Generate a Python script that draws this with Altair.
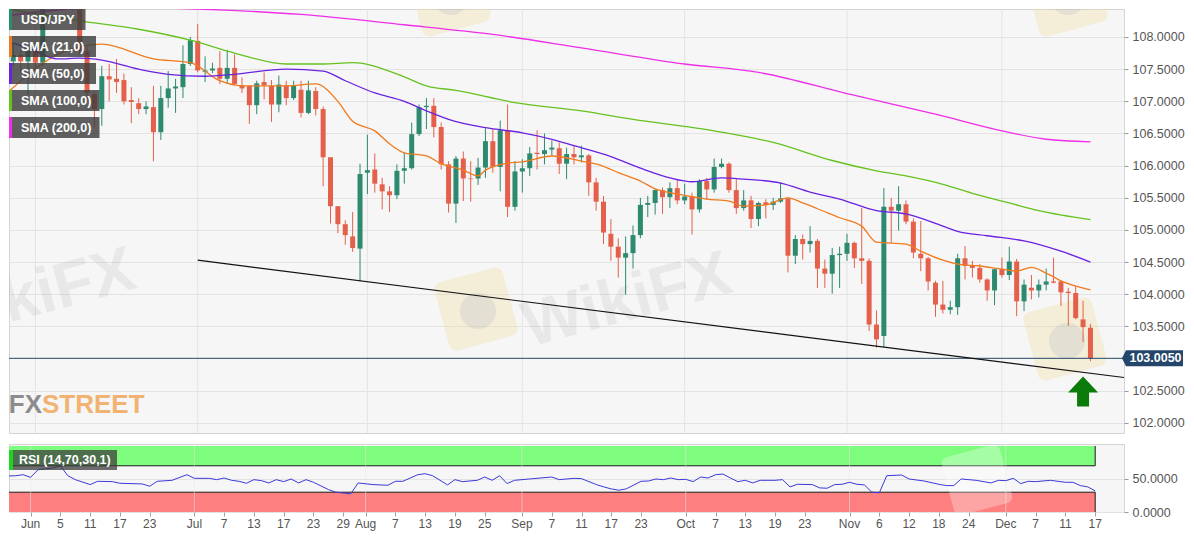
import pandas as pd
import altair as alt

# Daily bars, counted in trading days (bar 0 = 1 June 2020)
days = pd.bdate_range("2020-05-27", "2020-12-17")
bar_of = {d.strftime("%Y-%m-%d"): i - 3 for i, d in enumerate(days)}

opens = [
    107.62, 107.72, 107.62,
    107.81, 107.60, 108.70, 108.90, 109.20, 109.60, 108.45, 107.78, 107.11, 106.88,
    107.39, 107.35, 107.33, 107.02, 106.97, 106.88, 106.91, 106.52, 107.05, 107.20,
    107.22, 107.58,
    107.94, 107.46, 107.48, 107.52, 107.35, 107.52, 107.25, 107.24, 106.94, 107.30,
    107.24, 106.95, 107.25, 107.05, 107.18, 106.82, 107.16, 106.88, 106.13, 105.37,
    105.09, 104.90, 104.71,
    105.89, 105.94, 105.71, 105.60, 105.54, 105.92, 105.96, 106.49, 106.91, 106.93,
    106.60, 106.02, 105.41, 106.11, 105.80, 105.80, 105.97, 106.38, 105.98, 106.55, 105.36,
    105.91, 105.96, 106.20, 106.18, 106.25, 106.27, 106.03, 106.18, 106.13,
    106.16, 105.74, 105.44, 104.94, 104.74, 104.57, 104.64, 104.92, 105.39, 105.42,
    105.62, 105.51, 105.65,
    105.46, 105.52, 105.32, 105.76, 105.63, 105.98, 106.03, 105.62, 105.34, 105.46,
    105.17, 105.43, 105.39, 105.44, 105.49, 104.60, 104.86, 104.78, 104.83, 104.40,
    104.32, 104.61,
    104.63, 104.80, 104.56, 104.52, 103.53, 103.35, 105.36, 105.30, 105.40, 105.13,
    104.63, 104.56, 104.18, 103.84, 103.76, 103.80, 104.56, 104.44, 104.41, 104.23,
    104.06,
    104.39, 104.30, 104.51, 103.89, 104.10, 104.06, 104.15, 104.20, 104.20, 104.04,
    104.02, 103.61, 103.48,
]
highs = [
    107.90, 107.80, 107.90,
    107.92, 108.80, 109.10, 109.30, 109.85, 109.65, 108.55, 107.85, 107.15, 107.55,
    107.58, 107.66, 107.43, 107.22, 107.05, 107.00, 107.24, 107.24, 107.47, 107.35,
    107.87, 108.00,
    108.20, 107.70, 107.60, 107.78, 107.80, 107.73, 107.37, 107.25, 107.32, 107.45,
    107.33, 107.40, 107.32, 107.32, 107.32, 107.32, 107.22, 106.92, 106.13, 105.37,
    105.15, 105.28, 106.03,
    106.48, 106.19, 105.81, 105.68, 106.02, 106.20, 106.67, 106.95, 107.05, 107.05,
    106.67, 106.07, 106.15, 106.22, 106.07, 106.12, 106.58, 106.57, 106.70, 106.95, 106.07,
    106.10, 106.29, 106.55, 106.50, 106.39, 106.36, 106.28, 106.31, 106.31,
    106.18, 105.81, 105.53, 105.17, 104.87, 104.90, 105.07, 105.50, 105.53, 105.63,
    105.66, 105.74, 105.79,
    105.72, 105.58, 105.79, 105.81, 106.11, 106.11, 106.05, 105.79, 105.62, 105.53,
    105.44, 105.48, 105.50, 105.74, 105.51, 104.92, 104.93, 105.06, 104.86, 104.54,
    104.72, 104.74,
    104.94, 104.82, 105.34, 104.56, 103.75, 105.65, 105.50, 105.68, 105.46, 105.18,
    105.14, 104.58, 104.21, 104.21, 103.90, 104.63, 104.75, 104.52, 104.47, 104.25,
    104.39,
    104.57, 104.74, 104.55, 104.23, 104.30, 104.23, 104.40, 104.57, 104.22, 104.10,
    104.13, 103.90, 103.54,
]
lows = [
    107.55, 107.45, 107.10,
    107.50, 107.55, 108.45, 108.75, 109.10, 108.40, 107.72, 107.00, 106.59, 106.62,
    107.00, 107.13, 106.95, 106.66, 106.80, 106.80, 106.07, 106.40, 106.90, 106.82,
    107.05, 107.55,
    107.45, 107.30, 107.44, 107.27, 107.27, 107.25, 107.13, 106.65, 106.80, 107.03,
    106.68, 106.83, 106.94, 107.02, 106.75, 106.80, 106.78, 105.68, 105.10, 104.95,
    104.77, 104.66, 104.20,
    105.56, 105.58, 105.32, 105.28, 105.48, 105.72, 105.94, 106.46, 106.57, 106.44,
    105.94, 105.27, 105.11, 105.45, 105.44, 105.70, 105.81, 105.89, 105.60, 105.20, 105.30,
    105.58, 105.84, 105.94, 106.02, 106.15, 105.87, 105.79, 106.02, 106.05,
    105.53, 105.30, 104.78, 104.52, 104.26, 103.99, 104.40, 104.87, 105.20, 105.24,
    105.25, 105.34, 105.40,
    105.40, 104.93, 105.27, 105.48, 105.58, 105.96, 105.58, 105.25, 105.30, 105.03,
    105.06, 105.18, 105.31, 105.42, 104.34, 104.47, 104.54, 104.65, 104.10, 104.10,
    104.01, 104.10,
    104.52, 104.41, 104.16, 103.43, 103.17, 103.18, 104.80, 104.99, 105.09, 104.56,
    104.36, 104.06, 103.65, 103.70, 103.69, 103.68, 104.23, 104.26, 104.18, 103.90,
    103.83,
    104.26, 104.22, 103.66, 103.74, 103.92, 103.95, 104.06, 104.17, 103.82, 103.51,
    103.61, 103.26, 102.96,
]
closes = [
    107.72, 107.62, 107.83,
    107.60, 108.70, 108.90, 109.20, 109.60, 108.45, 107.78, 107.13, 106.88, 107.39,
    107.34, 107.30, 107.00, 106.99, 106.88, 106.92, 106.52, 107.05, 107.20, 107.23,
    107.58, 107.95,
    107.48, 107.48, 107.51, 107.35, 107.52, 107.27, 107.20, 106.94, 107.28, 107.25,
    106.95, 107.26, 107.05, 107.25, 106.82, 107.17, 106.88, 106.13, 105.37, 105.09,
    104.92, 104.72, 105.87,
    105.93, 105.72, 105.60, 105.54, 105.92, 105.96, 106.49, 106.91, 106.93, 106.60,
    106.02, 105.41, 106.11, 105.80, 105.79, 105.97, 106.38, 105.98, 106.55, 105.36, 105.91,
    105.96, 106.19, 106.18, 106.24, 106.28, 106.03, 106.18, 106.13, 106.16,
    105.74, 105.44, 104.96, 104.74, 104.57, 104.64, 104.92, 105.39, 105.42, 105.62,
    105.51, 105.65, 105.46,
    105.52, 105.32, 105.76, 105.63, 105.98, 106.03, 105.62, 105.34, 105.46, 105.17,
    105.42, 105.39, 105.44, 105.49, 104.60, 104.86, 104.78, 104.83, 104.40, 104.32,
    104.61, 104.63,
    104.80, 104.56, 104.52, 103.53, 103.30, 105.36, 105.30, 105.40, 105.13, 104.65,
    104.56, 104.20, 103.84, 103.76, 103.80, 104.56, 104.44, 104.41, 104.23, 104.06,
    104.39,
    104.30, 104.51, 103.89, 104.15, 104.06, 104.15, 104.20, 104.18, 104.03, 104.02,
    103.63, 103.49, 103.005,
]

# Moving averages at these bars
sma21_at = [-4, 4, 9, 16, 21, 25, 28, 34, 38, 41, 43, 46, 48, 50, 53, 55, 58, 60, 61, 64,
            66, 70, 74, 77, 79, 82, 84, 87, 91, 94, 96, 99, 102, 104, 106, 109, 112, 114, 118, 120,
            123, 125, 128, 131, 133, 135, 137, 139, 143]
sma21 = [107.11, 107.78, 107.89, 107.66, 107.60, 107.32, 107.24, 107.24, 107.27, 107.00,
         106.69, 106.54, 106.34, 106.20, 106.15, 106.03, 105.93, 105.84, 105.93, 106.04,
         106.06, 106.15, 106.07, 105.99, 105.89, 105.76, 105.64, 105.56, 105.48, 105.45,
         105.37, 105.39, 105.50, 105.42, 105.33, 105.19, 105.06, 104.81, 104.78, 104.67,
         104.53, 104.47, 104.44, 104.39, 104.36, 104.42, 104.33, 104.21, 104.07]
sma50_at = [-4, -1, 3, 6, 9, 14, 18, 23, 27, 34, 39, 42, 46, 50, 53, 56, 61, 66, 70, 73,
            78, 82, 86, 89, 93, 96, 101, 105, 109, 114, 118, 123, 125, 129, 134, 139, 143]
sma50 = [107.94, 107.83, 107.66, 107.67, 107.64, 107.50, 107.42, 107.39, 107.42, 107.50,
         107.47, 107.32, 107.13, 107.00, 106.85, 106.72, 106.59, 106.51, 106.41, 106.31,
         106.14, 105.96, 105.81, 105.75, 105.81, 105.79, 105.73, 105.59, 105.48, 105.30,
         105.25, 105.06, 104.98, 104.91, 104.83, 104.67, 104.50]
sma100_at = [-4, 6, 14, 21, 27, 34, 39, 43, 50, 53, 57, 65, 74, 81, 92, 100, 108, 114, 118, 123,
             127, 132, 136, 143]
sma100 = [108.44, 108.25, 108.12, 107.95, 107.75, 107.58, 107.58, 107.60, 107.38, 107.24,
          107.17, 106.98, 106.85, 106.72, 106.54, 106.36, 106.08, 105.92, 105.84, 105.71,
          105.57, 105.42, 105.30, 105.16]
sma200_at = [-4, 10, 23, 36, 50, 62, 74, 88, 98, 110, 122, 131, 137, 143]
sma200 = [108.33, 108.46, 108.43, 108.35, 108.19, 108.04, 107.83, 107.58, 107.45, 107.12,
          106.80, 106.54, 106.41, 106.37]

# RSI(14)
rsi_at = [-4, -2, -1, 0, 1, 3, 4, 5, 6, 8, 9, 11, 12, 15, 16, 17, 19, 21, 22, 24,
          25, 26, 27, 28, 29, 30, 31, 32, 33, 34, 35, 36, 37, 38, 40, 41, 43, 44, 46, 48,
          49, 50, 52, 53, 54, 56, 57, 58, 60, 61, 62, 63, 64, 65, 67, 70, 71, 73, 74, 76,
          77, 78, 79, 80, 82, 83, 84, 85, 86, 87, 88, 89, 90, 91, 92, 93, 94, 95, 96, 97,
          98, 100, 101, 102, 103, 105, 106, 107, 108, 109, 110, 111, 112, 113, 114, 115, 117, 118, 120, 122,
          123, 124, 125, 127, 129, 130, 131, 132, 133, 134, 135, 137, 139, 140, 141, 142, 143]
rsi = [54, 55, 56.5, 52.5, 64, 66.5, 70, 55, 49, 41.5, 46.5, 46, 43.5, 42.5, 39, 46.5, 48, 56.5, 51, 51,
       49, 51.5, 48, 46.5, 43.5, 49, 47.5, 44, 49, 46, 50, 44, 49, 45, 34, 30, 27.5, 44, 41.5, 40.5,
       46.5, 46.5, 56.5, 58, 55, 41, 49, 46, 48, 53, 48, 55, 43, 48, 50, 53, 49, 51, 50.5, 41.5,
       38, 35, 33, 35, 46.5, 47, 50, 49, 51.5, 49, 49.5, 46, 53, 51.5, 56.5, 57.5, 51.5, 46, 48, 44,
       48, 48, 49, 38, 42, 41.5, 36.5, 36, 41.5, 42, 45, 42, 41, 30, 29, 55, 56, 50, 47, 42,
       40, 40, 50, 48, 44, 48, 47.5, 51, 43, 46.5, 46, 48, 45, 45, 40, 38, 32]

# Descending trend line (bar, price)
trend_bars = [bar_of["2020-07-01"], 148]
trend_prices = [104.53, 102.70]

tick_dates = ["2020-06-01", "2020-06-05", "2020-06-11", "2020-06-17", "2020-06-23",
              "2020-07-01", "2020-07-07", "2020-07-13", "2020-07-17", "2020-07-23", "2020-07-29",
              "2020-08-03", "2020-08-07", "2020-08-13", "2020-08-19", "2020-08-25",
              "2020-09-01", "2020-09-07", "2020-09-11", "2020-09-17", "2020-09-23",
              "2020-10-01", "2020-10-07", "2020-10-13", "2020-10-19", "2020-10-23",
              "2020-11-02", "2020-11-06", "2020-11-12", "2020-11-18", "2020-11-24",
              "2020-12-01", "2020-12-07", "2020-12-11", "2020-12-17"]
tick_text = ["Jun", "5", "11", "17", "23", "Jul", "7", "13", "17", "23", "29",
             "Aug", "7", "13", "19", "25", "Sep", "7", "11", "17", "23",
             "Oct", "7", "13", "19", "23", "Nov", "6", "12", "18", "24",
             "Dec", "7", "11", "17"]
month_dates = ["2020-06-01", "2020-07-01", "2020-08-03", "2020-09-01",
               "2020-10-01", "2020-11-02", "2020-12-01"]
price_ticks = [102.0, 102.5, 103.5, 104.0, 104.5, 105.0, 105.5, 106.0, 106.5, 107.0, 107.5, 108.0]
rsi_ticks = [0, 50]

legend_names = ["USD/JPY", "SMA (21,0)", "SMA (50,0)", "SMA (100,0)", "SMA (200,0)"]
legend_colors = ["#2d8a6e", "#f07b1e", "#6a22e0", "#66c21e", "#ee2ee8"]

UP, DOWN = "#2d8a6e", "#e4604a"
FONT = "Liberation Sans"
W, H_MAIN, H_RSI = 1115, 424, 68

# ---- frames
candles = pd.DataFrame({
    "bar": [bar_of[d.strftime("%Y-%m-%d")] for d in days],
    "open": opens, "high": highs, "low": lows, "close": closes,
})
last_bar = int(candles["bar"].max())
last_price = closes[-1]

sma = pd.concat([
    pd.DataFrame({"bar": at, "value": v, "name": n})
    for n, at, v in [("SMA (21,0)", sma21_at, sma21), ("SMA (50,0)", sma50_at, sma50),
                     ("SMA (100,0)", sma100_at, sma100), ("SMA (200,0)", sma200_at, sma200)]
])
rsi_df = pd.DataFrame({"bar": rsi_at, "rsi": rsi})
trend_df = pd.DataFrame({"bar": trend_bars, "price": trend_prices})
months_df = pd.DataFrame({"bar": [bar_of[d] for d in month_dates]})
price_df = pd.DataFrame({"price": [last_price], "label": [f"{last_price:.4f}"]})
ticks_df = pd.DataFrame({"bar": [bar_of[d] for d in tick_dates], "text": tick_text})

x_scale = alt.Scale(domain=[-2.9, 146.87], nice=False, zero=False)
y_scale = alt.Scale(domain=[101.844, 108.435], nice=False, zero=False)
r_scale = alt.Scale(domain=[0, 103], nice=False, zero=False)
candle_color = alt.condition("datum.close >= datum.open", alt.value(UP), alt.value(DOWN))

# every layer of a panel carries the same axis definition
y_axis = alt.Axis(orient="right", values=price_ticks, format=".4f", title=None, grid=True,
                  gridColor="#e3e3e3", domain=False, tickColor="#9a9a9a", tickSize=4,
                  labelPadding=4, labelColor="#555555", labelFontSize=12.5, labelFont=FONT)
r_axis = alt.Axis(orient="right", values=rsi_ticks, format=".4f", title=None, grid=True,
                  gridColor="#e3e3e3", domain=False, tickColor="#9a9a9a", tickSize=4,
                  labelPadding=4, labelColor="#555555", labelFontSize=12.5, labelFont=FONT)
x_axis = alt.Axis(values=list(ticks_df["bar"]), labels=False, title=None, grid=False, domain=False,
                  tickColor="#a0a0a0", tickSize=4)

XM = alt.X("bar:Q", scale=x_scale, axis=None)
XR = alt.X("bar:Q", scale=x_scale, axis=x_axis)


def YM(field):
    return alt.Y(field, type="quantitative", scale=y_scale, axis=y_axis)


def YR(field):
    return alt.Y(field, type="quantitative", scale=r_scale, axis=r_axis)


def one(text=""):
    return alt.Chart(pd.DataFrame({"t": [text]}))


# ---- main price panel
month_rules = alt.Chart(months_df).mark_rule(color="#e3e3e3").encode(x=XM)

# faint WikiFX watermarks: rounded badge + word
ROUND_SQ = "M-1,-0.75Q-1,-1,-0.75,-1L0.75,-1Q1,-1,1,-0.75L1,0.75Q1,1,0.75,1L-0.75,1Q-1,1,-1,0.75Z"
watermarks = []
for bx, by in [(467, 300), (1056, 330), (440, -14), (1057, -14)]:
    watermarks += [
        one().mark_point(shape=ROUND_SQ, size=5000, angle=345, filled=True, color="#efd995",
                         opacity=0.3, strokeWidth=0, clip=True).encode(x=alt.value(bx), y=alt.value(by)),
        one().mark_point(shape="circle", size=1300, filled=True, color="#8d93ad",
                         opacity=0.16, strokeWidth=0, clip=True).encode(x=alt.value(bx + 2), y=alt.value(by + 2)),
    ]
for wx, wy in [(22, 288), (618, 292)]:
    watermarks.append(one("WikiFX").mark_text(
        angle=345, fontSize=64, fontWeight="bold", font=FONT, color="#808080", opacity=0.11, clip=True
    ).encode(x=alt.value(wx), y=alt.value(wy), text="t:N"))

wicks = alt.Chart(candles).mark_rule(strokeWidth=1, clip=True).encode(
    x=XM, y=YM("low"), y2="high:Q", color=candle_color)
bodies = alt.Chart(candles).mark_bar(size=5, clip=True).encode(
    x=XM, y=YM("open"), y2="close:Q", color=candle_color)

price_rule = alt.Chart(price_df).mark_rule(color="#24466a", strokeWidth=1).encode(y=YM("price"))
trend = alt.Chart(trend_df).mark_line(color="#111111", strokeWidth=1.2, clip=True).encode(
    x=XM, y=YM("price"))
sma_lines = alt.Chart(sma).mark_line(strokeWidth=1.3, interpolate="monotone", clip=True).encode(
    x=XM, y=YM("value"),
    color=alt.Color("name:N", scale=alt.Scale(domain=legend_names[1:], range=legend_colors[1:]),
                    legend=None))

arrow = alt.Chart(pd.DataFrame({"bar": [142], "price": [102.49]})).mark_point(
    shape="M0,-1L1,0.07L0.4,0.07L0.4,1L-0.4,1L-0.4,0.07L-1,0.07Z",
    size=900, filled=True, opacity=1, color="#0b7b0b", strokeWidth=0
).encode(x=XM, y=YM("price"))

price_box = alt.Chart(price_df).mark_point(
    shape="M-1.14,0L-1,-0.28L1,-0.28L1,0.28L-1,0.28Z",
    size=3249, filled=True, opacity=1, color="#24466a", strokeWidth=0
).encode(x=alt.value(1145.5), y=YM("price"))
price_text = alt.Chart(price_df).mark_text(
    color="white", fontWeight="bold", fontSize=12.5, font=FONT
).encode(x=alt.value(1146.5), y=YM("price"), text="label:N")

# indicator tags in the top-left corner
tags = []
for k, (name, col) in enumerate(zip(legend_names, legend_colors)):
    top = k * 27
    tags += [
        one(name).mark_rect(color="#3d3d3d", opacity=0.82).encode(
            x=alt.value(0), x2=alt.value(52 + 3.5 * len(name)), y=alt.value(top), y2=alt.value(top + 21)),
        one(name).mark_rect(color=col).encode(
            x=alt.value(0), x2=alt.value(3), y=alt.value(top), y2=alt.value(top + 21)),
        one(name).mark_text(align="left", baseline="middle", color="white", fontWeight="bold",
                            fontSize=12.5, font=FONT).encode(
            x=alt.value(12), y=alt.value(top + 11), text="t:N"),
    ]

logo_fx = one("FX").mark_text(
    align="right", baseline="alphabetic", font=FONT, fontWeight="bold", fontSize=26, color="#8c8c8c"
).encode(x=alt.value(33), y=alt.value(404), text="t:N")
logo_street = one("STREET").mark_text(
    align="left", baseline="alphabetic", font=FONT, fontWeight="bold", fontSize=26, color="#f2b272"
).encode(x=alt.value(33), y=alt.value(404), text="t:N")

main = alt.layer(
    month_rules, *watermarks, wicks, bodies, price_rule, trend, sma_lines, arrow,
    price_box, price_text, *tags, logo_fx, logo_street
).properties(width=W, height=H_MAIN)


# ---- RSI panel
def band(lo, hi, edge, fill):
    df = pd.DataFrame({"x0": [-4], "x1": [last_bar], "lo": [lo], "hi": [hi], "edge": [edge]})
    base = alt.Chart(df)
    rect = base.mark_rect(color=fill, clip=True).encode(
        x=alt.X("x0:Q", scale=x_scale, axis=x_axis), x2="x1:Q", y=YR("lo"), y2="hi:Q")
    line = base.mark_rule(color="#1a1a1a", strokeWidth=1, clip=True).encode(
        x=alt.X("x0:Q", scale=x_scale, axis=x_axis), x2="x1:Q", y=YR("edge"))
    side = base.mark_rule(color="#1a1a1a", strokeWidth=1, clip=True).encode(
        x=alt.X("x1:Q", scale=x_scale, axis=x_axis), y=YR("lo"), y2="hi:Q")
    return [rect, line, side]


rsi_months = alt.Chart(months_df).mark_rule(color="#e8e8e8", opacity=0.55).encode(x=XR)
rsi_badge = one().mark_point(shape=ROUND_SQ, size=3600, angle=345, filled=True, color="#ffffff",
                             opacity=0.3, strokeWidth=0, clip=True).encode(x=alt.value(968), y=alt.value(36))
rsi_line = alt.Chart(rsi_df).mark_line(color="#3a3ad8", strokeWidth=1, clip=True).encode(
    x=XR, y=YR("rsi"))
tick_labels = alt.Chart(ticks_df).mark_text(
    baseline="top", fontSize=12, font=FONT, color="#555555"
).encode(x=XR, y=alt.value(H_RSI + 7), text="text:N")

rsi_box = one().mark_rect(color="#3d3d3d", opacity=0.75).encode(
    x=alt.value(0), x2=alt.value(108), y=alt.value(6), y2=alt.value(26))
rsi_strip = one().mark_rect(color="#1ed41e").encode(
    x=alt.value(0), x2=alt.value(4), y=alt.value(6), y2=alt.value(26))
rsi_text = one("RSI (14,70,30,1)").mark_text(
    align="left", baseline="middle", color="white", fontWeight="bold", fontSize=12.5, font=FONT
).encode(x=alt.value(10), y=alt.value(16), text="t:N")

rsi_panel = alt.layer(
    *band(70, 100, 70, "#7efc7e"), *band(0, 30, 30, "#fd7f7f"),
    rsi_months, rsi_badge, rsi_line, tick_labels, rsi_box, rsi_strip, rsi_text
).properties(width=W, height=H_RSI)

chart = alt.vconcat(main, rsi_panel, spacing=9).properties(
    padding=0, background="#ffffff"
).configure_view(fill="#f6f6f7", stroke="#d4d4d4")

chart.save("out.html", embed_options={"renderer": "svg", "actions": False})
